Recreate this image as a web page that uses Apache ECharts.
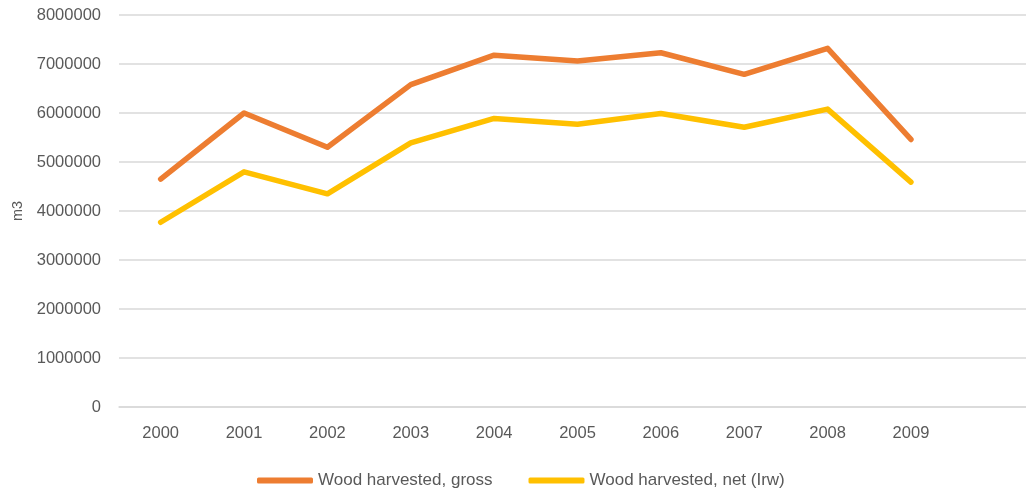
<!DOCTYPE html>
<html>
<head>
<meta charset="utf-8">
<script src="https://cdn.jsdelivr.net/npm/echarts@6/dist/echarts.min.js"></script>
<style>
  html, body { margin: 0; padding: 0; background: #ffffff; }
  #chart { width: 1026px; height: 491px; }
</style>
</head>
<body>
<div id="chart"></div>
<script>
// Harvest years; the trailing blank slot leaves room on the right of the plot
const years = ['2000', '2001', '2002', '2003', '2004', '2005', '2006', '2007', '2008', '2009', ''];

// Wood harvested, m3
const grossHarvest = [4650000, 6000000, 5300000, 6580000, 7180000, 7060000, 7230000, 6790000, 7320000, 5460000];
const netHarvest = [3770000, 4800000, 4350000, 5390000, 5890000, 5770000, 5990000, 5710000, 6080000, 4590000];

const seriesNames = ['Wood harvested, gross', 'Wood harvested, net (Irw)'];
const seriesColors = ['#ED7D31', '#FFC000'];

const labelFont = 'Liberation Sans, Arial, sans-serif';
const chart = echarts.init(document.getElementById('chart'), null, { renderer: 'canvas' });

chart.setOption({
  backgroundColor: '#ffffff',
  animation: false,
  grid: { left: 119, right: -10, top: 15, bottom: 84, containLabel: false, outerBoundsMode: 'none' },
  legend: {
    data: seriesNames,
    bottom: -3,
    left: 252,
    icon: 'roundRect',
    itemWidth: 56,
    itemHeight: 6,
    itemGap: 36,
    textStyle: { color: '#595959', fontSize: 17, fontFamily: labelFont }
  },
  xAxis: {
    type: 'category',
    data: years,
    boundaryGap: true,
    axisLine: { show: true, lineStyle: { color: '#d9d9d9', width: 1.5 } },
    axisTick: { show: false },
    axisLabel: { color: '#595959', fontSize: 16.5, fontFamily: labelFont, margin: 18 },
    splitLine: { show: false }
  },
  yAxis: {
    type: 'value',
    min: 0,
    max: 8000000,
    interval: 1000000,
    name: 'm3',
    nameLocation: 'middle',
    nameGap: 93,
    nameRotate: 90,
    nameTextStyle: { color: '#595959', fontSize: 14.5, fontFamily: labelFont },
    axisLine: { show: false },
    axisTick: { show: false },
    axisLabel: {
      color: '#595959',
      fontSize: 16.5,
      fontFamily: labelFont,
      margin: 18,
      formatter: (v) => String(v)
    },
    splitLine: { lineStyle: { color: '#d9d9d9', width: 1.5 } }
  },
  series: [
    {
      name: seriesNames[0],
      type: 'line',
      data: grossHarvest,
      symbol: 'none',
      color: seriesColors[0],
      lineStyle: { width: 5.5, color: seriesColors[0], cap: 'round', join: 'round' }
    },
    {
      name: seriesNames[1],
      type: 'line',
      data: netHarvest,
      symbol: 'none',
      color: seriesColors[1],
      lineStyle: { width: 5.5, color: seriesColors[1], cap: 'round', join: 'round' }
    }
  ]
});
</script>
</body>
</html>
